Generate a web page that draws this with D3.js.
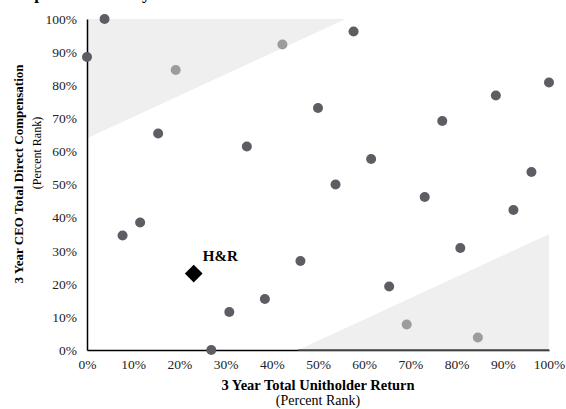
<!DOCTYPE html>
<html>
<head>
<meta charset="utf-8">
<script src="https://cdn.jsdelivr.net/npm/d3@7/dist/d3.min.js"></script>
<style>
  html, body { margin: 0; padding: 0; background: #fff; }
  svg { display: block; }
</style>
</head>
<body>
<svg id="chart" width="566" height="409"></svg>
<script>
// ---- Data (percent ranks) ----
const peerTSR = [3.8, 0, 57.7, 100, 88.5, 50, 76.9, 15.4, 34.6, 11.5, 7.7, 61.5, 96.2, 53.8, 73.1, 92.3, 80.8, 46.2, 30.8, 38.5, 26.9, 65.4];
const peerComp = [100, 88.5, 96.2, 80.8, 76.9, 73.1, 69.2, 65.4, 61.5, 38.5, 34.6, 57.7, 53.8, 50, 46.2, 42.3, 30.8, 26.9, 11.5, 15.4, 0, 19.2];
const zonePeerTSR = [19.2, 42.3, 69.2, 84.6];
const zonePeerComp = [84.6, 92.3, 7.7, 3.8];
const companyLabel = "H&R";
const companyTSR = [23.1];
const companyComp = [23.1];
const tickValues = [0, 10, 20, 30, 40, 50, 60, 70, 80, 90, 100];
const upperZone = [[0, 64], [56, 100], [0, 100]];
const lowerZone = [[45.7, 0], [100, 35], [100, 0]];
const xTitle = "3 Year Total Unitholder Return";
const yTitle = "3 Year CEO Total Direct Compensation";
const subTitle = "(Percent Rank)";
const chartTitle = "Top Executive Pay";

const svg = d3.select("#chart");
const L = 87, R = 549, T = 19, B = 350;
const x = d3.scaleLinear().domain([0, 100]).range([L, R]);
const y = d3.scaleLinear().domain([0, 100]).range([B, T]);
const serif = "'Liberation Serif', 'Times New Roman', serif";

// clipped title (only descenders visible, as in the reference)
svg.append("text").attr("x", 16).attr("y", -1)
  .attr("font-family", serif).attr("font-weight", "bold").attr("font-size", 17)
  .attr("fill", "#000").text(chartTitle);

// shaded zones
const line = d3.line().x(d => x(d[0])).y(d => y(d[1]));
svg.append("path").attr("d", line(upperZone) + "Z").attr("fill", "#efefef");
svg.append("path").attr("d", line(lowerZone) + "Z").attr("fill", "#efefef");

// axes
const xAxis = d3.axisBottom(x).tickValues(tickValues).tickFormat(d => d + "%").tickSize(0).tickPadding(9);
const yAxis = d3.axisLeft(y).tickValues(tickValues).tickFormat(d => d + "%").tickSize(0).tickPadding(10);
const gx = svg.append("g").attr("transform", `translate(0,${B})`).call(xAxis);
const gy = svg.append("g").attr("transform", `translate(${L},0)`).call(yAxis);
[gx, gy].forEach(g => {
  g.select(".domain").attr("stroke", "#000").attr("stroke-width", 1.5);
  g.selectAll("text").attr("font-family", serif).attr("font-size", 13.5).attr("fill", "#222");
});
// lower zone edge over x-axis
svg.append("line").attr("x1", x(45.7)).attr("x2", x(100)).attr("y1", B).attr("y2", B)
  .attr("stroke", "#555").attr("stroke-width", 1.5);

// axis titles
svg.append("text").attr("x", 318).attr("y", 390).attr("text-anchor", "middle")
  .attr("font-family", serif).attr("font-weight", "bold").attr("font-size", 14.5).text(xTitle);
svg.append("text").attr("x", 318).attr("y", 405).attr("text-anchor", "middle")
  .attr("font-family", serif).attr("font-size", 14).text(subTitle);
svg.append("text").attr("transform", "translate(23,174) rotate(-90)").attr("text-anchor", "middle")
  .attr("font-family", serif).attr("font-weight", "bold").attr("font-size", 13).text(yTitle);
svg.append("text").attr("transform", "translate(41,153) rotate(-90)").attr("text-anchor", "middle")
  .attr("font-family", serif).attr("font-size", 12).text(subTitle);

// peers
svg.append("g").selectAll("circle").data(peerTSR.map((v, i) => [v, peerComp[i]])).join("circle")
  .attr("cx", d => x(d[0])).attr("cy", d => y(d[1])).attr("r", 5).attr("fill", "#5c5e64");
svg.append("g").selectAll("circle").data(zonePeerTSR.map((v, i) => [v, zonePeerComp[i]])).join("circle")
  .attr("cx", d => x(d[0])).attr("cy", d => y(d[1])).attr("r", 5).attr("fill", "#9c9c9e");

// company
const comp = companyTSR.map((v, i) => [v, companyComp[i]]);
svg.append("g").selectAll("path").data(comp).join("path")
  .attr("d", d3.symbol().type(d3.symbolDiamond2).size(200))
  .attr("transform", d => `translate(${x(d[0])},${y(d[1])})`).attr("fill", "#000");
svg.append("g").selectAll("text").data(comp).join("text")
  .attr("x", d => x(d[0]) + 9).attr("y", d => y(d[1]) - 13)
  .attr("font-family", serif).attr("font-weight", "bold").attr("font-size", 15).text(companyLabel);
</script>
</body>
</html>
